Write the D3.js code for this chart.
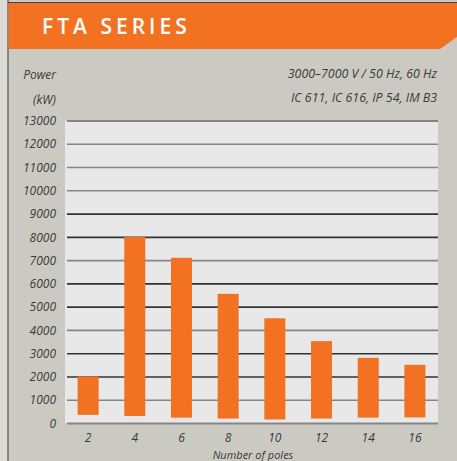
<!DOCTYPE html>
<html><head><meta charset="utf-8">
<script src="https://cdn.jsdelivr.net/npm/d3@7"></script>
<style>
html,body{margin:0;padding:0;background:#cbcac2;}
svg{display:block;}
text{font-family:"Open Sans",sans-serif;}
</style></head>
<body>
<script>
const categories = ["2","4","6","8","10","12","14","16"];
const barLow = [350, 300, 230, 190, 150, 190, 230, 240];
const barHigh = [2000, 8000, 7100, 5550, 4500, 3520, 2800, 2500];
const yTicks = [0,1000,2000,3000,4000,5000,6000,7000,8000,9000,10000,11000,12000,13000];
const title = "FTA SERIES";
const yLabel = ["Power","(kW)"];
const specLines = ["3000–7000 V / 50 Hz, 60 Hz","IC 611, IC 616, IP 54, IM B3"];
const xLabel = "Number of poles";

const W = 457, H = 461;
const svg = d3.select("body").append("svg").attr("width", W).attr("height", H);

// page background pieces
svg.append("rect").attr("x",0).attr("y",0).attr("width",W).attr("height",H).attr("fill","#cbcac2");
svg.append("rect").attr("x",0).attr("y",0).attr("width",8).attr("height",H).attr("fill","#dcdcd5");
svg.append("line").attr("x1",8).attr("x2",8).attr("y1",0).attr("y2",H).attr("stroke","#6e6e6a").attr("stroke-width",1.5);
svg.append("line").attr("x1",8).attr("x2",W).attr("y1",2.5).attr("y2",2.5).attr("stroke","#444").attr("stroke-width",1);

// header band
svg.append("polygon").attr("points","8.5,3 457,3 457,37 440,49 8.5,49").attr("fill","#f37221");
svg.append("text").attr("x",42).attr("y",33.5).attr("fill","#fff")
  .attr("font-size",21).attr("font-weight",600).attr("letter-spacing",4).text(title);

const m = {l:65, r:438, t:120.5, b:423};
const x = d3.scaleBand().domain(categories).range([m.l, m.r]).paddingInner(0.55).paddingOuter(0.27);
const y = d3.scaleLinear().domain([0,13000]).range([m.b, m.t]);

svg.append("rect").attr("x",m.l).attr("y",m.t).attr("width",m.r-m.l).attr("height",m.b-m.t).attr("fill","#e7e8e7");

// gridlines via axis
const gAx = svg.append("g").attr("transform",`translate(${m.l+2},0)`)
  .call(d3.axisLeft(y).tickValues(yTicks).tickSize(-(m.r-m.l-2)).tickFormat(""));
gAx.select(".domain").remove();
gAx.selectAll(".tick line").attr("stroke",(d,i)=> (d%3000===1000 || d===0 || d>=11000) ? "#858585" : "#333")
  .attr("stroke-width",(d)=> d===0||d===13000 ? 2 : 1.6);

// y tick labels
const gY = svg.append("g").attr("transform",`translate(56,0)`)
  .call(d3.axisLeft(y).tickValues(yTicks).tickSize(0).tickPadding(0).tickFormat(d3.format("d")));
gY.select(".domain").remove();
gY.selectAll("text").attr("font-family","'Open Sans',sans-serif").attr("font-style","italic")
  .attr("font-size",12).attr("fill","#3a3a3a").attr("dy","0.35em");

// bars
svg.append("g").selectAll("rect").data(categories).join("rect")
  .attr("x",d=>x(d)).attr("width",x.bandwidth())
  .attr("y",(d,i)=>y(barHigh[i])).attr("height",(d,i)=>y(barLow[i])-y(barHigh[i]))
  .attr("fill","#f37221");

// x axis labels
const gX = svg.append("g").attr("transform",`translate(0,${m.b})`)
  .call(d3.axisBottom(x).tickSize(0).tickPadding(0));
gX.select(".domain").remove();
gX.selectAll("text").attr("font-family","'Open Sans',sans-serif").attr("font-style","italic")
  .attr("font-size",12).attr("fill","#3a3a3a").attr("dy",null).attr("y",19);

svg.append("text").attr("x",253).attr("y",458.5).attr("text-anchor","middle")
  .attr("font-style","italic").attr("font-size",11).attr("fill","#3a3a3a").text(xLabel);

svg.selectAll(".ylab").data(yLabel).join("text").attr("x",56).attr("y",(d,i)=>79+i*25)
  .attr("text-anchor","end").attr("font-style","italic").attr("font-size",12).attr("fill","#3a3a3a").text(d=>d);

svg.selectAll(".spec").data(specLines).join("text").attr("x",437).attr("y",(d,i)=>78+i*24)
  .attr("text-anchor","end").attr("font-style","italic").attr("font-size",12.4).attr("fill","#3a3a3a").text(d=>d);
</script>
</body></html>
